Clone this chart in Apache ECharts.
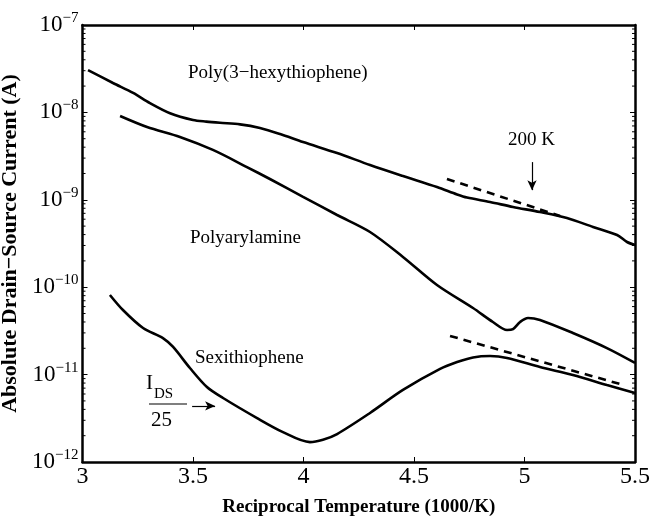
<!DOCTYPE html>
<html>
<head>
<meta charset="utf-8">
<script src="https://cdn.jsdelivr.net/npm/echarts@6/dist/echarts.min.js"></script>
<style>
  html, body { margin: 0; padding: 0; background: #fff; }
  #chart { width: 650px; height: 520px; }
</style>
</head>
<body>
<div id="chart"></div>
<script>
// reciprocal temperature (1000/K) and current (A)
const p3htX = [3.025, 3.138, 3.229, 3.305, 3.396, 3.5, 3.56, 3.622, 3.713, 3.803, 3.894, 3.998, 4.152, 4.301, 4.45, 4.604, 4.695, 4.74, 4.844, 4.948, 5.07, 5.192, 5.31, 5.419, 5.464, 5.5];
const p3htY = [3.05e-8, 2.17e-8, 1.67e-8, 1.28e-8, 9.8e-9, 8.2e-9, 7.85e-9, 7.6e-9, 7.3e-9, 6.64e-9, 5.66e-9, 4.58e-9, 3.43e-9, 2.5e-9, 1.87e-9, 1.4e-9, 1.15e-9, 1.06e-9, 9.44e-10, 8.28e-10, 7.25e-10, 6.19e-10, 4.89e-10, 3.95e-10, 3.29e-10, 3.04e-10];

const polyX = [3.17, 3.292, 3.441, 3.59, 3.744, 3.848, 3.998, 4.152, 4.301, 4.45, 4.604, 4.767, 4.857, 4.921, 4.948, 4.98, 5.016, 5.07, 5.219, 5.373, 5.5];
const polyY = [9.1e-9, 6.81e-9, 5.24e-9, 3.72e-9, 2.37e-9, 1.73e-9, 1.08e-9, 6.7e-10, 4.28e-10, 2.22e-10, 1.06e-10, 5.78e-11, 4.0e-11, 3.24e-11, 3.32e-11, 4.0e-11, 4.45e-11, 4.22e-11, 2.99e-11, 2.01e-11, 1.36e-11];

const sexiX = [3.124, 3.183, 3.274, 3.364, 3.41, 3.486, 3.563, 3.636, 3.79, 3.907, 4.029, 4.088, 4.152, 4.301, 4.45, 4.618, 4.695, 4.767, 4.844, 4.921, 5.07, 5.219, 5.373, 5.5];
const sexiY = [8.15e-11, 5.48e-11, 3.41e-11, 2.62e-11, 2.07e-11, 1.19e-11, 7.21e-12, 5.4e-12, 3.18e-12, 2.2e-12, 1.69e-12, 1.8e-12, 2.09e-12, 3.64e-12, 6.67e-12, 1.16e-11, 1.39e-11, 1.57e-11, 1.63e-11, 1.55e-11, 1.22e-11, 9.88e-12, 7.6e-12, 6.15e-12];

// dashed fits
const fitHighX = [4.649, 5.161];
const fitHighY = [1.73e-9, 6.53e-10];
const fitLowX = [4.663, 5.432];
const fitLowY = [2.77e-11, 7.8e-12];

// annotation arrows (data coords)
const arrow200K = [[5.034, 2.7e-9], [5.034, 1.29e-9]];
const arrowIds = [[3.496, 4.38e-12], [3.6, 4.38e-12]];

const xTicks = [3, 3.5, 4, 4.5, 5, 5.5];
const decades = [-12, -11, -10, -9, -8, -7];

const zip = (xs, ys) => xs.map((x, i) => [x, ys[i]]);

// log minor tick positions 2..9 x 10^n
const minorTicks = [];
decades.slice(0, -1).forEach(e => {
    [2, 3, 4, 5, 6, 7, 8, 9].forEach(m => minorTicks.push([3, m * Math.pow(10, e)]));
});

const serif = 'Liberation Serif';
const chart = echarts.init(document.getElementById('chart'));

const lineSeries = (data) => ({
    type: 'line',
    data: data,
    showSymbol: false,
    smooth: 0.3,
    silent: true,
    lineStyle: { color: '#000', width: 2.6 },
    z: 3
});

const dashSeries = (data) => ({
    type: 'line',
    data: data,
    showSymbol: false,
    silent: true,
    lineStyle: { color: '#000', width: 2.6, type: [8, 6] },
    z: 3
});

const arrowLine = (pts) => ({
    silent: true,
    symbol: ['none', 'arrow'],
    symbolSize: [7, 10],
    label: { show: false },
    lineStyle: { color: '#000', width: 1.2, type: 'solid' },
    data: [[{ coord: pts[0] }, { coord: pts[1] }]]
});

const frameAxis = {
    axisLine: { show: true, lineStyle: { color: '#000', width: 2.5 } },
    axisTick: { show: true, inside: true, length: 5, lineStyle: { color: '#000', width: 1 } },
    splitLine: { show: false }
};

chart.setOption({
    animation: false,
    backgroundColor: '#fff',
    grid: { left: 82.5, right: 15, top: 25, bottom: 58, outerBoundsMode: 'none', containLabel: false },
    xAxis: [
        Object.assign({
            type: 'value',
            min: 3,
            max: 5.5,
            interval: 0.5,
            position: 'bottom',
            name: 'Reciprocal Temperature (1000/K)',
            nameLocation: 'middle',
            nameGap: 36,
            nameTextStyle: { fontFamily: serif, fontWeight: 'bold', fontSize: 19, color: '#000' },
            axisLabel: {
                fontFamily: serif, fontSize: 24, color: '#000', margin: 3,
                showMinLabel: true, showMaxLabel: true,
                formatter: v => xTicks.indexOf(v) >= 0 ? String(v) : ''
            }
        }, frameAxis),
        Object.assign({
            type: 'value', min: 3, max: 5.5, interval: 0.5, position: 'top',
            axisLabel: { show: false }
        }, frameAxis)
    ],
    yAxis: [
        Object.assign({
            type: 'log',
            logBase: 10,
            min: 1e-12,
            max: 1e-7,
            position: 'left',
            name: 'Absolute Drain\u2212Source Current (A)',
            nameLocation: 'middle',
            nameGap: 60,
            nameTextStyle: { fontFamily: serif, fontWeight: 'bold', fontSize: 22, color: '#000' },
            axisLabel: {
                margin: 4,
                formatter: v => {
                    const e = Math.round(Math.log10(v));
                    return '{b|10}{s|\u2212' + (-e) + '}';
                },
                rich: {
                    b: { fontFamily: serif, fontSize: 23, color: '#000' },
                    s: { fontFamily: serif, fontSize: 15, color: '#000', padding: [0, 0, 14, 0] }
                }
            }
        }, frameAxis),
        Object.assign({
            type: 'log', logBase: 10, min: 1e-12, max: 1e-7, position: 'right',
            axisLabel: { show: false }
        }, frameAxis)
    ],
    series: [
        Object.assign(lineSeries(zip(p3htX, p3htY)), { markLine: arrowLine(arrow200K) }),
        lineSeries(zip(polyX, polyY)),
        Object.assign(lineSeries(zip(sexiX, sexiY)), { markLine: arrowLine(arrowIds) }),
        dashSeries(zip(fitHighX, fitHighY)),
        dashSeries(zip(fitLowX, fitLowY)),
        {
            type: 'custom',
            silent: true,
            data: minorTicks,
            encode: { x: 0, y: 1 },
            renderItem: (params, api) => {
                const l = api.coord([3, api.value(1)]);
                const r = api.coord([5.5, api.value(1)]);
                const st = { stroke: '#000', lineWidth: 1 };
                return {
                    type: 'group',
                    children: [
                        { type: 'line', shape: { x1: l[0], y1: l[1], x2: l[0] + 3, y2: l[1] }, style: st },
                        { type: 'line', shape: { x1: r[0], y1: r[1], x2: r[0] - 3, y2: r[1] }, style: st }
                    ]
                };
            }
        }
    ],
    graphic: [
        { type: 'text', left: 188, top: 64, style: { text: 'Poly(3\u2212hexythiophene)', font: '19px ' + serif, fill: '#000' } },
        { type: 'text', left: 190, top: 229, style: { text: 'Polyarylamine', font: '19px ' + serif, fill: '#000' } },
        { type: 'text', left: 195, top: 349, style: { text: 'Sexithiophene', font: '19px ' + serif, fill: '#000' } },
        { type: 'text', left: 508, top: 131, style: { text: '200 K', font: '19px ' + serif, fill: '#000' } },
        { type: 'text', left: 146, top: 373, style: { text: 'I', font: '21px ' + serif, fill: '#000' } },
        { type: 'text', left: 154, top: 387, style: { text: 'DS', font: '15px ' + serif, fill: '#000' } },
        { type: 'line', shape: { x1: 149, y1: 404, x2: 187, y2: 404 }, style: { stroke: '#000', lineWidth: 1.2 } },
        { type: 'text', left: 151, top: 410, style: { text: '25', font: '21px ' + serif, fill: '#000' } }
    ]
});
</script>
</body>
</html>
